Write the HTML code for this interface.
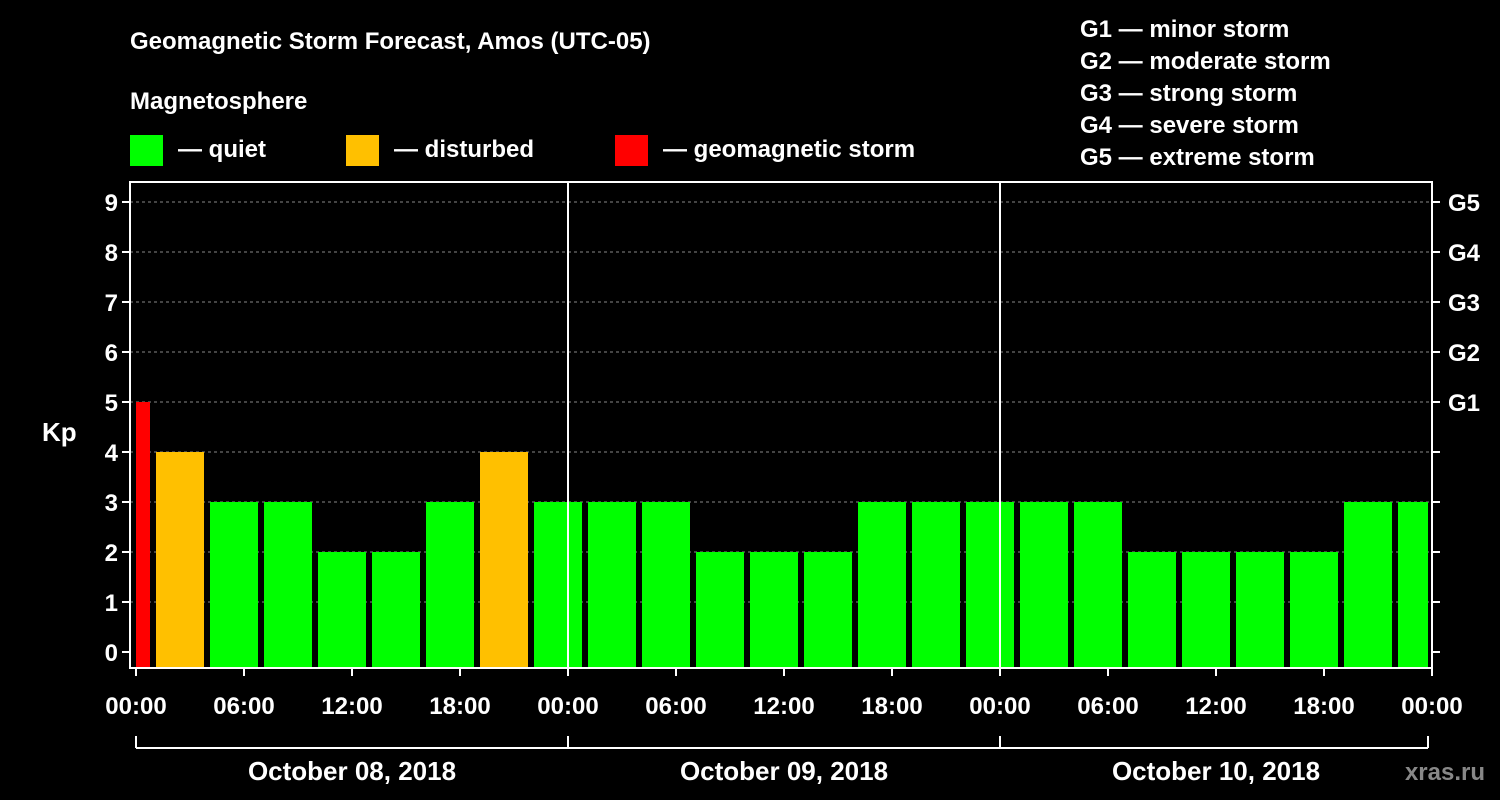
<!DOCTYPE html>
<html><head><meta charset="utf-8"><style>
html,body{margin:0;padding:0;background:#000;}
svg{display:block;font-family:"Liberation Sans",Arial,sans-serif;font-weight:bold;}
</style></head><body>
<svg width="1500" height="800" viewBox="0 0 1500 800">
<g id="legend" fill="#fff">
<text x="130" y="49" font-size="24">Geomagnetic Storm Forecast, Amos (UTC-05)</text>
<text x="130" y="109" font-size="24">Magnetosphere</text>
<rect x="130" y="135" width="33" height="31" fill="#00ff00"/>
<text x="178" y="157" font-size="24">— quiet</text>
<rect x="346" y="135" width="33" height="31" fill="#ffc000"/>
<text x="394" y="157" font-size="24">— disturbed</text>
<rect x="615" y="135" width="33" height="31" fill="#ff0000"/>
<text x="663" y="157" font-size="24">— geomagnetic storm</text>
<text x="1080" y="37" font-size="24">G1 — minor storm</text>
<text x="1080" y="69" font-size="24">G2 — moderate storm</text>
<text x="1080" y="101" font-size="24">G3 — strong storm</text>
<text x="1080" y="133" font-size="24">G4 — severe storm</text>
<text x="1080" y="165" font-size="24">G5 — extreme storm</text>
<text x="42" y="441" font-size="26">Kp</text>
<text x="1485" y="780" font-size="24" fill="#888" text-anchor="end">xras.ru</text>
</g>
<g id="grid"></g>
<g id="bars"></g>
<g id="axes"></g>
</svg>
<script>
const kpValues=[5,4,3,3,2,2,3,4,3,3,3,2,2,2,3,3,3,3,3,2,2,2,2,3,3];
const barStartHours=[-2,1,4,7,10,13,16,19,22,25,28,31,34,37,40,43,46,49,52,55,58,61,64,67,70];
const yTicks=[0,1,2,3,4,5,6,7,8,9];
const gLabels=["G1","G2","G3","G4","G5"];
const gLevels=[5,6,7,8,9];
const xTickLabels=["00:00","06:00","12:00","18:00","00:00","06:00","12:00","18:00","00:00","06:00","12:00","18:00","00:00"];
const dayLabels=["October 08, 2018","October 09, 2018","October 10, 2018"];
const NS="http://www.w3.org/2000/svg";
const X0=136,HPX=18,TOTAL=72;
const xs=h=>X0+h*HPX;
const ys=k=>652-50*k;
const L=130,R=1432,T=182,B=668;
function mk(tag,attrs,parent,txt){const e=document.createElementNS(NS,tag);for(const k in attrs)e.setAttribute(k,attrs[k]);if(txt!==undefined)e.textContent=txt;parent.appendChild(e);return e;}
const grid=document.getElementById('grid'),bars=document.getElementById('bars'),axes=document.getElementById('axes');
yTicks.forEach(k=>{if(k>0){const g=mk('line',{x1:L,x2:R,y1:ys(k),y2:ys(k),stroke:'#888','stroke-dasharray':'3,3','stroke-width':1},grid);

}});
kpValues.forEach((v,i)=>{
 let a=Math.max(xs(barStartHours[i])+2,X0),b=Math.min(xs(barStartHours[i]+3)-4,R-4);
 const col=v>=5?'#ff0000':(v>=4?'#ffc000':'#00ff00');
 const r=mk('rect',{x:a,y:ys(v),width:b-a,height:B-ys(v),fill:col},bars);
 
 
});
[1,2].forEach(d=>{const l=mk('line',{x1:xs(d*24),x2:xs(d*24),y1:T,y2:B,stroke:'#fff','stroke-width':2},axes);

});
const fr=mk('rect',{x:L,y:T,width:R-L,height:B-T,fill:'none',stroke:'#fff','stroke-width':2},axes);


yTicks.forEach(k=>{
 mk('line',{x1:L-8,x2:L,y1:ys(k),y2:ys(k),stroke:'#fff','stroke-width':2},axes);
 mk('line',{x1:R,x2:R+8,y1:ys(k),y2:ys(k),stroke:'#fff','stroke-width':2},axes);
 const t=mk('text',{x:L-12,y:ys(k)+9,'font-size':24,fill:'#fff','text-anchor':'end'},axes,String(k));
 
 
});
gLabels.forEach((g,i)=>{const t=mk('text',{x:R+16,y:ys(gLevels[i])+9,'font-size':24,fill:'#fff'},axes,g);

});
xTickLabels.forEach((s,i)=>{const x=xs(i*6);
 mk('line',{x1:x,x2:x,y1:B,y2:B+8,stroke:'#fff','stroke-width':2},axes);
 const t=mk('text',{x:x,y:714,'font-size':24,fill:'#fff','text-anchor':'middle'},axes,s);
 
 });
mk('line',{x1:xs(0),x2:R-4,y1:748,y2:748,stroke:'#fff','stroke-width':2},axes);
[0,24,48,72].forEach(h=>{const x=Math.min(xs(h),R-4);mk('line',{x1:x,x2:x,y1:736,y2:748,stroke:'#fff','stroke-width':2},axes);});
dayLabels.forEach((s,i)=>{const t=mk('text',{x:xs(i*24+12),y:780,'font-size':26,fill:'#fff','text-anchor':'middle'},axes,s);

});
</script>
</body></html>
